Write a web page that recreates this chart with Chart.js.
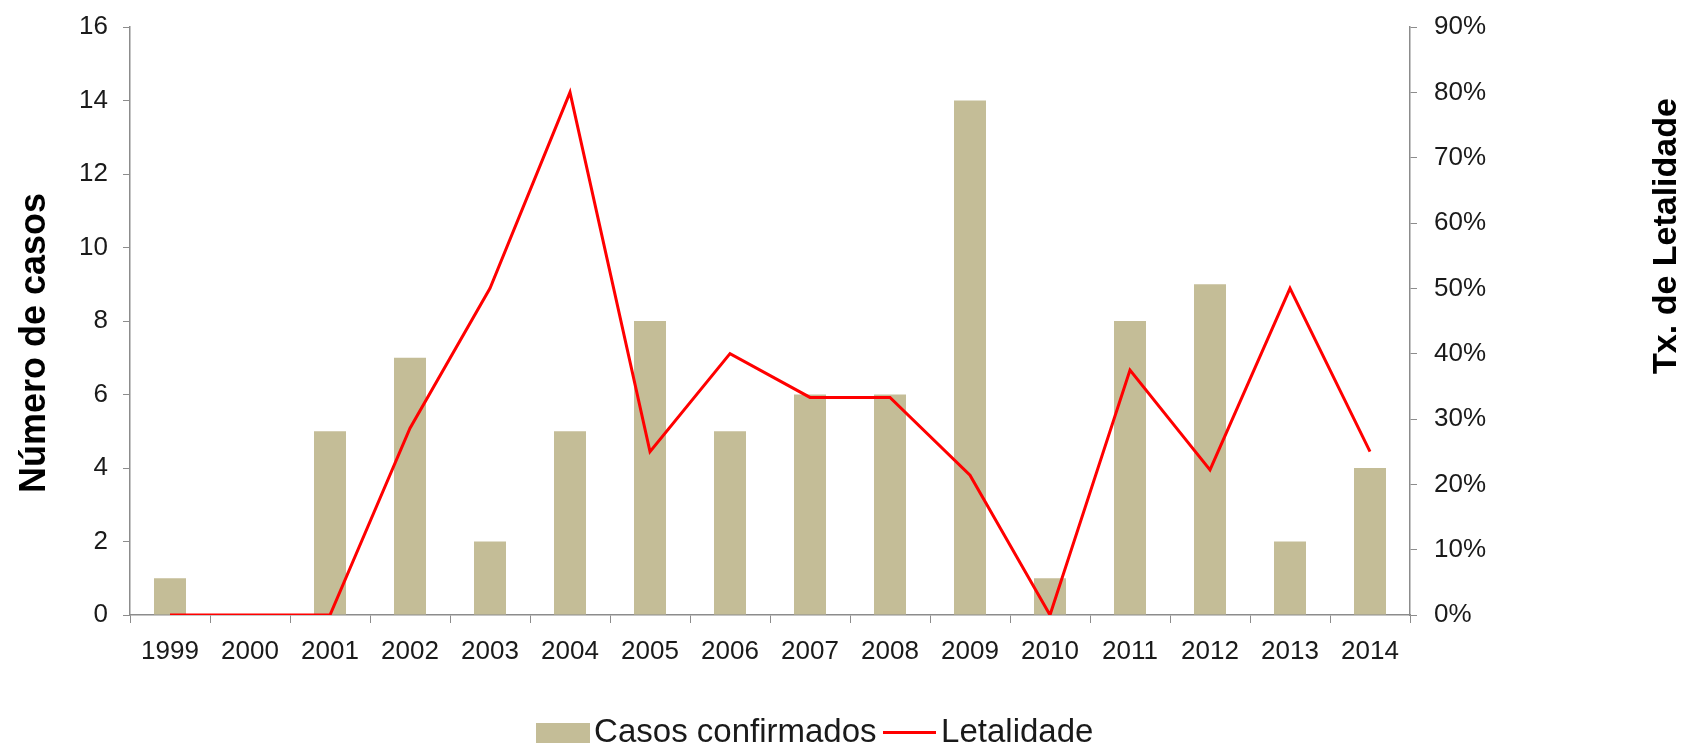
<!DOCTYPE html>
<html>
<head>
<meta charset="utf-8">
<title>Casos confirmados e letalidade</title>
<script src="https://cdn.jsdelivr.net/npm/chart.js@4"></script>
<style>
  html, body { margin: 0; padding: 0; background: #fff; }
  #wrap { width: 1685px; height: 747px; position: relative; }
</style>
</head>
<body>
<div id="wrap"><canvas id="chart"></canvas></div>
<script>
const anos = ["1999", "2000", "2001", "2002", "2003", "2004", "2005", "2006",
              "2007", "2008", "2009", "2010", "2011", "2012", "2013", "2014"];
const casosConfirmados = [1, 0, 5, 7, 2, 5, 8, 5, 6, 6, 14, 1, 8, 9, 2, 4];
const letalidade = [0, 0, 0, 28.6, 50, 80, 25, 40, 33.3, 33.3, 21.4, 0, 37.5, 22.2, 50, 25]; // %
const ticksCasos = [0, 2, 4, 6, 8, 10, 12, 14, 16];
const ticksLetalidade = [0, 10, 20, 30, 40, 50, 60, 70, 80, 90];

const barColor = "#c4bd97";
const lineColor = "#ff0000";
const axisGray = "#8c8c8c";
const textColor = "#1a1a1a";
const plotBottom = 615; // y of the category axis
const padBottom = -12;

Chart.defaults.font.family = "'Liberation Sans', Arial, sans-serif";
Chart.defaults.color = textColor;

// legend symbols, wider than the slot the legend gives them
function legendSymbol(w, h, color) {
    const c = document.createElement("canvas");
    c.width = w;
    c.height = h;
    const g = c.getContext("2d");
    g.fillStyle = color;
    g.fillRect(0, 0, w, h);
    return c;
}

// titles of the two value axes, placed like in the original
const axisTitles = {
    id: "axisTitles",
    afterLayout(chart) {
        // legend sits a bit left of the page centre
        chart.legend.left -= 22;
        chart.legend.right -= 22;
    },
    afterDraw(chart) {
        const ctx = chart.ctx;
        ctx.save();
        ctx.fillStyle = "#000";
        ctx.font = "bold 36px 'Liberation Sans', Arial, sans-serif";
        ctx.textAlign = "center";
        ctx.textBaseline = "middle";
        ctx.translate(35, 343);
        ctx.rotate(-Math.PI / 2);
        ctx.fillText("Número de casos", 0, 0);
        ctx.restore();

        ctx.save();
        ctx.fillStyle = "#000";
        ctx.font = "bold 34px 'Liberation Sans', Arial, sans-serif";
        ctx.textAlign = "center";
        ctx.textBaseline = "middle";
        ctx.translate(1667, 236);
        ctx.rotate(-Math.PI / 2);
        ctx.fillText("Tx. de Letalidade", 0, 0);
        ctx.restore();
    }
};

const ctx = document.getElementById("chart").getContext("2d");
new Chart(ctx, {
    type: "bar",
    data: {
        labels: anos,
        datasets: [
            {
                type: "bar",
                label: "Casos confirmados",
                data: casosConfirmados,
                backgroundColor: barColor,
                borderWidth: 0,
                barPercentage: 0.4,
                categoryPercentage: 1.0,
                pointStyle: legendSymbol(54, 20, barColor),
                yAxisID: "y",
                order: 1
            },
            {
                type: "line",
                label: "Letalidade",
                data: letalidade,
                borderColor: lineColor,
                backgroundColor: lineColor,
                borderWidth: 3,
                pointRadius: 0,
                pointStyle: legendSymbol(53, 3, lineColor),
                tension: 0,
                fill: false,
                yAxisID: "y1",
                order: 0
            }
        ]
    },
    options: {
        responsive: true,
        maintainAspectRatio: false,
        animation: false,
        layout: {
            padding: { top: 27, left: 0, right: 0, bottom: padBottom }
        },
        plugins: {
            tooltip: { enabled: false },
            legend: {
                position: "bottom",
                labels: {
                    usePointStyle: true,
                    pointStyleWidth: 30,
                    boxHeight: 20,
                    padding: 18,
                    color: textColor,
                    font: { size: 33 },
                    sort: (a, b) => a.datasetIndex - b.datasetIndex
                }
            }
        },
        scales: {
            x: {
                offset: true,
                grid: {
                    offset: true,
                    drawOnChartArea: false,
                    drawTicks: true,
                    tickLength: 8,
                    color: axisGray
                },
                border: { color: axisGray, width: 1.5 },
                ticks: {
                    padding: 13,
                    maxRotation: 0,
                    autoSkip: false,
                    font: { size: 26 }
                },
                afterFit(scale) {
                    const lg = scale.chart.legend ? scale.chart.legend.height : 0;
                    scale.height = scale.chart.height - plotBottom - lg - padBottom;
                }
            },
            y: {
                position: "left",
                min: 0,
                max: 16,
                afterBuildTicks(scale) { scale.ticks = ticksCasos.map(v => ({ value: v })); },
                grid: {
                    drawOnChartArea: false,
                    drawTicks: true,
                    tickLength: 7,
                    color: axisGray
                },
                border: { color: axisGray, width: 1.5 },
                ticks: {
                    padding: 15,
                    font: { size: 26 }
                },
                afterFit(scale) {
                    scale.width = 130;
                    scale.paddingTop = 0;
                }
            },
            y1: {
                position: "right",
                min: 0,
                max: 90,
                afterBuildTicks(scale) { scale.ticks = ticksLetalidade.map(v => ({ value: v })); },
                grid: {
                    drawOnChartArea: false,
                    drawTicks: true,
                    tickLength: 7,
                    color: axisGray
                },
                border: { color: axisGray, width: 1.5 },
                ticks: {
                    padding: 17,
                    font: { size: 26 },
                    callback: v => v + "%"
                },
                afterFit(scale) {
                    scale.width = 275;
                    scale.paddingTop = 0;
                }
            }
        }
    },
    plugins: [axisTitles]
});
</script>
</body>
</html>
